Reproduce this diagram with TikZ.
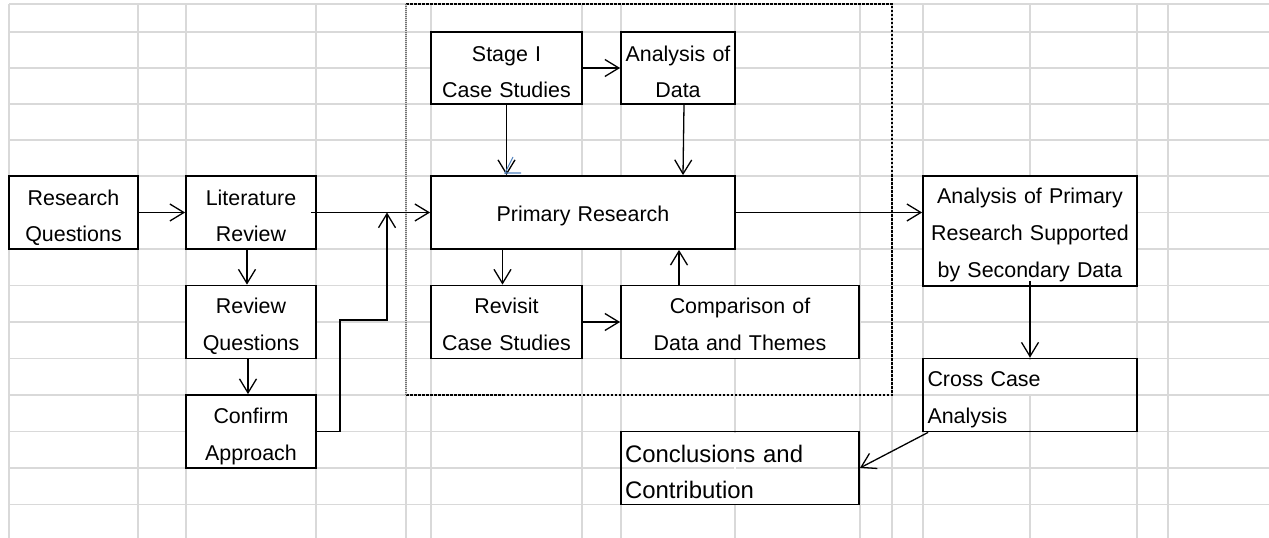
\documentclass[tikz,border=0pt]{standalone}
\usepackage{fontspec}
\setmainfont{Liberation Sans}
\usepackage{tikz}
\usetikzlibrary{arrows.meta}
\definecolor{gridgray}{RGB}{217,217,217}
\definecolor{markblue}{RGB}{79,129,189}

\begin{document}
\begin{tikzpicture}
[x=1bp, y=-1bp, line width=1.3bp, >={Straight Barb[length=14bp,width=17bp]},
 gridline/.style={draw=gridgray, line width=1.2bp},
 box/.style={draw, line width=1.8bp, fill=white, inner sep=0pt, align=center,
   font=\fontsize{21.5}{36.5}\selectfont, text height=29.5bp},
 openbox/.style={draw, line width=1.8bp, inner ysep=0pt, inner xsep=4.5bp, align=left,
   font=\fontsize{21.5}{36.5}\selectfont, text height=28.5bp}]

\useasboundingbox (0,0) rectangle (1269,538);

% Spreadsheet grid:
\foreach \gy in {4,32,68,104,140,176,212.5,249,285.5,322,358.5,395,431.5,468,504.5}
  \draw[gridline] (9,\gy) -- (1269,\gy);
\foreach \gx in {9,138,186,316,406,431,582,621,735,860,892,923,1030,1137,1168}
  \draw[gridline] (\gx,4) -- (\gx,538);
% merged cells hide the grid
\fill[white] (1029.2,359.6) rectangle (1030.8,394.2);
\fill[white] (734.2,432.6) rectangle (735.8,503.6);

% Stage box (dashed):
\draw[dash pattern=on 2.5bp off 1.5bp, line width=1.2bp] (406,4) -- (892,4) -- (892,395) -- (406,395);
\draw[black!55, dash pattern=on 1bp off 1bp, line width=2bp] (406,4) -- (406,395);

% Boxes:
\node[box, text width=129bp, text depth=43.5bp] (rq)  at (73.5,212.5) {Research\\Questions};
\node[box, text width=130bp, text depth=43.5bp] (lr)  at (251,212.5)  {Literature\\Review};
\node[box, text width=130bp, text height=28.5bp, text depth=44.5bp] (rvq) at (251,322) {Review\\Questions};
\node[box, text width=130bp, text height=29bp, text depth=44bp] (ca) at (251,431.5) {Confirm\\Approach};

\node[box, text width=151bp, text depth=42.5bp] (st) at (506.5,68) {Stage I\\Case Studies};
\node[box, text width=114bp, text depth=42.5bp] (ad) at (678,68)   {Analysis of\\Data};
\node[box, text width=304bp, text height=45.5bp, text depth=27.5bp] (pr) at (583,212.5) {Primary Research};
\node[box, text width=151bp, text height=28.5bp, text depth=44.5bp] (rcs) at (506.5,322) {Revisit\\Case Studies};
\node[box, text width=238bp, text height=28.5bp, text depth=44.5bp] (cmp) at (740,322)  {Comparison of\\Data and Themes};

\node[box, text width=214bp, text height=27.5bp, text depth=82.5bp,
  font=\fontsize{21.5}{37}\selectfont] (ap) at (1030,231) {Analysis of Primary\\Research Supported\\by Secondary Data};
\node[openbox, text width=205bp, text depth=44.5bp] (cc) at (1030,395) {Cross Case\\Analysis};
\node[openbox, text width=230bp, inner xsep=4bp, text height=30.5bp, text depth=42.5bp,
  font=\fontsize{24}{37}\selectfont] (cn) at (740,468) {Conclusions and\\Contribution};

% Arrows:
\coordinate (jn) at (387,212.5);
\draw[->] (rq.east) -- (lr.west);
\draw[->] ([xshift=-6bp]lr.east) -- (pr.west);
\draw[->] ([xshift=-4bp]lr.south) -- ([xshift=-4bp]rvq.north);
\draw[->] ([xshift=-3bp]rvq.south) -- ([xshift=-3bp]ca.north);
\draw[->] ([xshift=-2bp]ca.east) -- ++(25,0) -- ++(0,-111.5) -| (jn);

\draw[->] (st.east) -- (ad.west);
\draw[->] (st.south) -- (st.south |- pr.north);
\draw[->] ([xshift=6bp]ad.south) -- ([xshift=5bp]ad.south |- pr.north);
\draw[->] ([xshift=-4bp]rcs.north |- pr.south) -- ([xshift=-4bp]rcs.north);
\draw[->] (rcs.east) -- (cmp.west);
\draw[->] ([xshift=1bp]cmp.north -| ad.south) -- ([xshift=1bp]pr.south -| ad.south);

\draw[->] (pr.east) -- (pr.east -| ap.west);
\draw[->] ([yshift=6bp]ap.south) -- (cc.north);
\draw[->] ([xshift=6bp]cc.south west) -- (cn.east);

% stray pen mark
\draw[markblue, line width=1.1bp] (513,157) -- (505,173) -- (521,173);

\end{tikzpicture}
\end{document}
